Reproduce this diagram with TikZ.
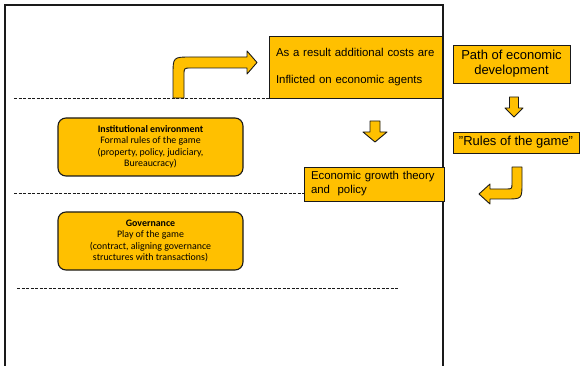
\documentclass[tikz,border=0pt]{standalone}
\usepackage{fontspec}
\setmainfont{Liberation Sans}
\newfontfamily\calibri{Carlito}
\definecolor{gold}{HTML}{FFC000}
\definecolor{ink}{HTML}{1A1A1A}
\begin{document}
\begin{tikzpicture}[x=1pt,y=-1pt,
  box/.style={draw=ink,fill=gold,line width=0.9pt,inner sep=0pt},
  layer/.style={box,rounded corners=8pt,line width=1.1pt,minimum width=185pt,minimum height=58pt,align=center,font=\calibri\fontsize{9.9}{11.5}\selectfont},
  level/.style={draw=ink,line width=0.7pt,dash pattern=on 3pt off 1.5pt},
  blockarrow/.style={draw=ink,fill=gold,line width=0.9pt,line join=round}]
  \useasboundingbox (0,0) rectangle (581,366);
  \draw[ink,line width=1.3pt] (5,366) -- (5,5) -- (443,5) -- (443,366);
  \draw[level] (14,98.5) -- (391,98.5);
  \draw[level] (14,193.5) -- (391,193.5);
  \draw[level] (17,288) -- (398,288);
  \node[box,minimum width=173pt,minimum height=62pt,text width=159pt,align=left,font=\fontsize{11.4}{27}\selectfont] (cost) at (355.5,67) {As a result additional costs are\\Inflicted on economic agents};
  \node[box,minimum width=140pt,minimum height=34pt,text width=126pt,align=left,font=\fontsize{11.4}{14}\selectfont] (growth) at (374,184) {Economic growth theory\\and~ policy};
  \node[box,minimum width=117pt,minimum height=38pt,align=center,font=\fontsize{13}{15}\selectfont] (path) at (511.5,64) {Path of economic\\development};
  \node[box,minimum width=126pt,minimum height=21pt,font=\fontsize{13}{15}\selectfont] (rules) at (516,142.5) {\symbol{34}Rules of the game\symbol{34}};
  \node[layer] (inst) at (150.5,147) {{\bfseries Institutional environment}\\Formal rules of the game\\(property, policy, judiciary,\\Bureaucracy)};
  \node[layer] (gov) at (150.5,241) {{\bfseries Governance}\\Play of the game\\(contract, aligning governance\\structures with transactions)};
  \draw[blockarrow] (173,98) -- (173,75) .. controls (173,57) .. (191,57) -- (247,57) -- (247,51) -- (257,62.5) -- (247,74) -- (247,68) -- (191,68) .. controls (184,68) .. (184,75) -- (184,98) -- cycle;
  \draw[blockarrow] (370,121) -- (380,121) -- (380,132) -- (387,132) -- (375,142) -- (363,132) -- (370,132) -- cycle;
  \draw[blockarrow] (509.5,97) -- (518.5,97) -- (518.5,108) -- (523,108) -- (514,117) -- (505,108) -- (509.5,108) -- cycle;
  \draw[blockarrow] (512,167) -- (522,167) -- (522,183) .. controls (522,199) .. (506,199) -- (490,199) -- (490,204) -- (479,194) -- (490,184) -- (490,189) -- (506,189) .. controls (512,189) .. (512,183) -- cycle;
\end{tikzpicture}
\end{document}
